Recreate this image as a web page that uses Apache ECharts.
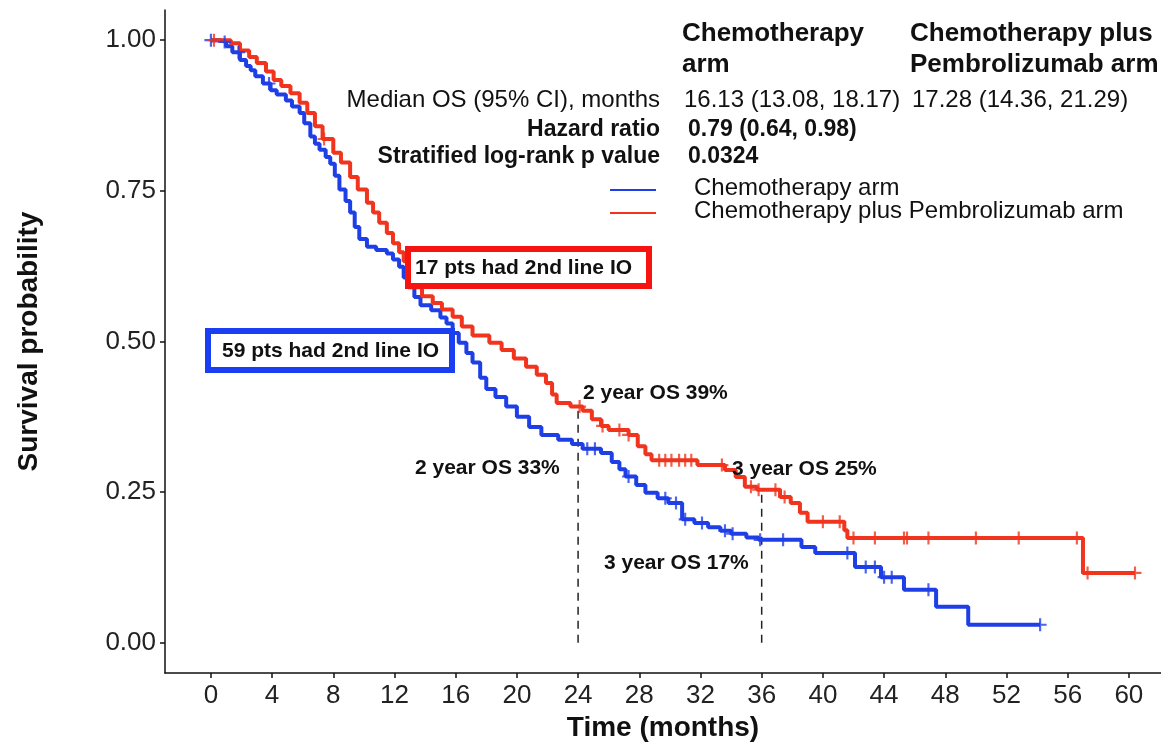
<!DOCTYPE html>
<html>
<head>
<meta charset="utf-8">
<script src="https://cdn.jsdelivr.net/npm/echarts@6/dist/echarts.min.js"></script>
<style>
  html, body { margin: 0; padding: 0; background: #fff; }
  #main { width: 1161px; height: 742px; }
</style>
</head>
<body>
<div id="main"></div>
<script>
// Kaplan-Meier steps (months, survival)
const chemoTime = [0, 0.6, 1.0, 1.4, 1.9, 2.3, 2.6, 2.9, 3.4, 3.9, 4.3, 4.9, 5.3, 5.8, 6.1, 6.5, 6.8, 7.1, 7.5, 7.8,
  8.1, 8.4, 8.8, 9.1, 9.4, 9.7, 10.2, 10.8, 11.5, 11.9, 12.3, 12.6, 12.9, 13.3, 13.7, 14.4, 15.0, 15.4, 15.8, 16.2,
  16.7, 17.1, 17.6, 18.0, 18.6, 19.3, 20.0, 20.8, 21.6, 22.7, 23.6, 24.3, 25.5, 26.2, 26.7, 27.1, 27.8, 28.4, 29.2, 29.9,
  30.8, 31.6, 32.5, 33.3, 34.0, 35.0, 35.8, 38.6, 39.5, 42.1, 43.8, 45.3, 47.4, 49.5, 54.2];
const chemoSurv = [1.000, 0.997, 0.990, 0.980, 0.967, 0.957, 0.950, 0.940, 0.928, 0.917, 0.910, 0.900, 0.890, 0.879, 0.862, 0.840, 0.828, 0.818, 0.806, 0.795,
  0.775, 0.752, 0.733, 0.714, 0.690, 0.670, 0.657, 0.652, 0.646, 0.636, 0.624, 0.606, 0.590, 0.574, 0.560, 0.552, 0.540, 0.530, 0.514, 0.498,
  0.481, 0.465, 0.440, 0.421, 0.408, 0.392, 0.375, 0.358, 0.345, 0.337, 0.330, 0.322, 0.315, 0.300, 0.288, 0.276, 0.262, 0.249, 0.240, 0.232,
  0.205, 0.199, 0.192, 0.186, 0.181, 0.175, 0.171, 0.159, 0.149, 0.126, 0.109, 0.088, 0.060, 0.030, 0.030];
const chemoCensor = [0, 0.9, 1.8, 3.8, 24.6, 25.1, 27.3, 29.7, 30.4, 31.0, 32.1, 33.6, 34.1, 35.9, 37.4, 41.6, 42.8, 43.4, 44.0, 44.5, 46.9, 54.2];

const pembroTime = [0, 1.3, 1.9, 2.5, 3.0, 3.6, 4.1, 4.6, 5.2, 5.8, 6.3, 6.8, 7.3, 8.0, 8.5, 9.1, 9.6, 10.2, 10.6, 11.0,
  11.5, 11.9, 12.3, 12.6, 12.9, 13.2, 13.8, 14.5, 15.1, 15.8, 16.4, 17.1, 18.2, 19.0, 19.8, 20.6, 21.3, 21.9, 22.3, 22.6,
  23.5, 24.3, 24.9, 25.5, 26.0, 27.3, 27.9, 28.4, 28.8, 31.8, 33.6, 34.3, 34.9, 35.7, 37.2, 37.9, 38.5, 39.0, 41.4, 41.6,
  57.0, 60.4];
const pembroSurv = [1.000, 0.995, 0.983, 0.972, 0.962, 0.948, 0.934, 0.924, 0.912, 0.896, 0.879, 0.857, 0.836, 0.813, 0.797, 0.773, 0.752, 0.730, 0.714, 0.697,
  0.680, 0.663, 0.648, 0.633, 0.610, 0.590, 0.575, 0.564, 0.553, 0.541, 0.525, 0.510, 0.498, 0.486, 0.472, 0.458, 0.445, 0.431, 0.412, 0.398,
  0.392, 0.385, 0.371, 0.360, 0.353, 0.345, 0.326, 0.313, 0.303, 0.295, 0.287, 0.275, 0.259, 0.254, 0.242, 0.232, 0.216, 0.201, 0.187, 0.174,
  0.116, 0.116];
const pembroCensor = [0.2, 7.4, 24.1, 25.6, 26.7, 27.3, 29.3, 29.7, 30.1, 30.6, 31.0, 31.4, 33.4, 35.3, 35.8, 36.9, 37.5, 40.0, 41.1, 42.0,
  43.4, 45.3, 45.5, 46.9, 50.0, 52.8, 56.6, 57.3, 60.4];

const xTicks = [0, 4, 8, 12, 16, 20, 24, 28, 32, 36, 40, 44, 48, 52, 56, 60];
const yTicks = [0, 0.25, 0.5, 0.75, 1];
const milestones = [24, 36];

const BLUE = '#1f3fe6';
const RED = '#f0341e';
const FONT = '"Liberation Sans", Arial, sans-serif';

function survAt(times, surv, t) {
  let s = surv[0];
  for (let i = 0; i < times.length; i++) {
    if (times[i] <= t) s = surv[i];
  }
  return s;
}

const plus = 'path://M-1,-6H1V-1H6V1H1V6H-1V1H-6V-1H-1Z';

let myChart = echarts.init(document.getElementById('main'));

// dashed landmark lines from 0 up to the pembrolizumab curve
let markSeries = milestones.map(function (m) {
  return {
    type: 'line',
    data: [[m, 0], [m, survAt(pembroTime, pembroSurv, m)]],
    showSymbol: false,
    silent: true,
    z: 1,
    lineStyle: { color: '#222', width: 1.5, type: [8, 6] }
  };
});

function txt(text, x, y, font, align) {
  return {
    type: 'text',
    x: x, y: y,
    style: {
      text: text, font: font, fill: '#111',
      textAlign: align || 'left', align: align || 'left',
      textVerticalAlign: 'middle', verticalAlign: 'middle'
    },
    z: 100
  };
}

let option = {
  animation: false,
  backgroundColor: '#fff',
  grid: { left: 165, right: 0, top: 10, bottom: 69, outerBoundsMode: 'none', containLabel: false },
  xAxis: {
    type: 'value',
    min: -3,
    max: 62.1,
    name: 'Time (months)',
    nameLocation: 'middle',
    nameGap: 38,
    nameTextStyle: { fontFamily: FONT, fontWeight: 'bold', fontSize: 28, color: '#111' },
    axisLine: { onZero: false, lineStyle: { color: '#111', width: 1.5 } },
    axisTick: { customValues: xTicks, length: 5, lineStyle: { color: '#111', width: 1.5 } },
    axisLabel: { customValues: xTicks, fontFamily: FONT, fontSize: 26, color: '#222', margin: 10 },
    splitLine: { show: false }
  },
  yAxis: {
    type: 'value',
    min: -0.05,
    max: 1.05,
    name: 'Survival probability',
    nameLocation: 'middle',
    nameGap: 122,
    nameRotate: 90,
    nameTextStyle: { fontFamily: FONT, fontWeight: 'bold', fontSize: 28, color: '#111' },
    axisLine: { show: true, onZero: false, lineStyle: { color: '#111', width: 1.5 } },
    axisTick: { show: true, customValues: yTicks, length: 5, lineStyle: { color: '#111', width: 1.5 } },
    axisLabel: {
      customValues: yTicks, fontFamily: FONT, fontSize: 26, color: '#222', margin: 9,
      formatter: function (v) { return v.toFixed(2); }
    },
    splitLine: { show: false }
  },
  series: markSeries.concat([
    {
      name: 'Chemotherapy arm',
      type: 'line',
      step: 'end',
      data: chemoTime.map(function (t, i) { return [t, chemoSurv[i]]; }),
      showSymbol: false,
      z: 3,
      lineStyle: { color: BLUE, width: 4 }
    },
    {
      name: 'Chemotherapy plus Pembrolizumab arm',
      type: 'line',
      step: 'end',
      data: pembroTime.map(function (t, i) { return [t, pembroSurv[i]]; }),
      showSymbol: false,
      z: 4,
      lineStyle: { color: RED, width: 4 }
    },
    {
      type: 'scatter',
      data: chemoCensor.map(function (t) { return [t, survAt(chemoTime, chemoSurv, t)]; }),
      symbol: plus,
      symbolSize: 13,
      z: 5,
      itemStyle: { color: BLUE }
    },
    {
      type: 'scatter',
      data: pembroCensor.map(function (t) { return [t, survAt(pembroTime, pembroSurv, t)]; }),
      symbol: plus,
      symbolSize: 13,
      z: 6,
      itemStyle: { color: RED }
    }
  ]),
  graphic: [
    // stats table
    txt('Chemotherapy', 682, 34, 'bold 26px ' + FONT),
    txt('arm', 682, 65, 'bold 26px ' + FONT),
    txt('Chemotherapy plus', 910, 34, 'bold 26px ' + FONT),
    txt('Pembrolizumab arm', 910, 65, 'bold 26px ' + FONT),
    txt('Median OS (95% CI), months', 660, 100, '24px ' + FONT, 'right'),
    txt('16.13 (13.08, 18.17)', 684, 100, '24px ' + FONT),
    txt('17.28 (14.36, 21.29)', 912, 100, '24px ' + FONT),
    txt('Hazard ratio', 660, 130, 'bold 23px ' + FONT, 'right'),
    txt('0.79 (0.64, 0.98)', 688, 130, 'bold 23px ' + FONT),
    txt('Stratified log-rank p value', 660, 157, 'bold 23px ' + FONT, 'right'),
    txt('0.0324', 688, 157, 'bold 23px ' + FONT),
    // legend
    { type: 'line', shape: { x1: 610, y1: 190, x2: 656, y2: 190 }, style: { stroke: BLUE, lineWidth: 2 }, z: 100 },
    { type: 'line', shape: { x1: 610, y1: 213, x2: 656, y2: 213 }, style: { stroke: RED, lineWidth: 2 }, z: 100 },
    txt('Chemotherapy arm', 694, 188, '24px ' + FONT),
    txt('Chemotherapy plus Pembrolizumab arm', 694, 211, '24px ' + FONT),
    // boxes
    { type: 'rect', shape: { x: 408, y: 249, width: 241, height: 37 }, style: { fill: '#fff', stroke: '#f5140f', lineWidth: 6 }, z: 90 },
    txt('17 pts had 2nd line IO', 415, 268, 'bold 21px ' + FONT),
    { type: 'rect', shape: { x: 208, y: 331, width: 244, height: 39 }, style: { fill: '#fff', stroke: '#1a3ff2', lineWidth: 6 }, z: 90 },
    txt('59 pts had 2nd line IO', 222, 351, 'bold 21px ' + FONT),
    // landmark labels
    txt('2 year OS 39%', 583, 393, 'bold 21px ' + FONT),
    txt('2 year OS 33%', 415, 468, 'bold 21px ' + FONT),
    txt('3 year OS 25%', 732, 469, 'bold 21px ' + FONT),
    txt('3 year OS 17%', 604, 563, 'bold 21px ' + FONT)
  ]
};

myChart.setOption(option);
</script>
</body>
</html>
